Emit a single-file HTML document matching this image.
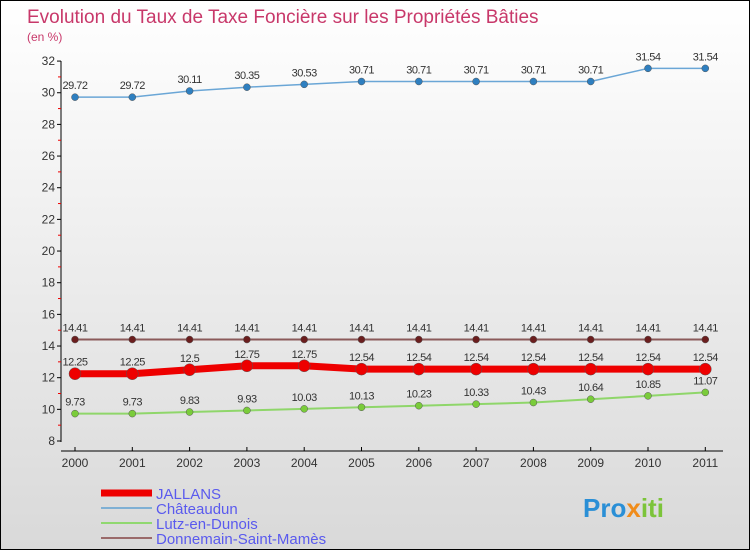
<!DOCTYPE html>
<html><head><meta charset="utf-8"><style>
body{margin:0}
#c{width:748px;height:548px;border:1px solid #000;background:linear-gradient(#fff,#d9d9d9);position:relative;font-family:"Liberation Sans",sans-serif;overflow:hidden}
svg{position:absolute;left:0;top:0}
</style></head><body>
<div id="c">
<svg id="s" width="748" height="548">
<text x="26" y="22" font-size="19" fill="#c8386a">Evolution du Taux de Taxe Foncière sur les Propriétés Bâties</text>
<text x="26" y="40" font-size="12" fill="#c8386a">(en %)</text>
<g id="axes"></g><g id="series"></g><g id="legend"></g>
<text x="582" y="516" font-size="26" font-weight="bold" fill="#2a8fd6">Pro<tspan fill="#f08c1a">x</tspan><tspan fill="#7cc43a">iti</tspan></text>
</svg>
</div>
<script>
const years=[2000,2001,2002,2003,2004,2005,2006,2007,2008,2009,2010,2011];
const jallans=[12.25,12.25,12.5,12.75,12.75,12.54,12.54,12.54,12.54,12.54,12.54,12.54];
const chateaudun=[29.72,29.72,30.11,30.35,30.53,30.71,30.71,30.71,30.71,30.71,31.54,31.54];
const lutz=[9.73,9.73,9.83,9.93,10.03,10.13,10.23,10.33,10.43,10.64,10.85,11.07];
const donnemain=[14.41,14.41,14.41,14.41,14.41,14.41,14.41,14.41,14.41,14.41,14.41,14.41];
const yTicks=[8,10,12,14,16,18,20,22,24,26,28,30,32];
const NS="http://www.w3.org/2000/svg";
const X=i=>74+i*57.3, Y=v=>440-(v-8)*15.83;
function mk(t,a,p){const e=document.createElementNS(NS,t);for(const k in a)e.setAttribute(k,a[k]);p.appendChild(e);return e;}
const ax=document.getElementById('axes');
let l=mk('line',{x1:60,y1:60,x2:60,y2:441,stroke:'#000'},ax);


l=mk('line',{x1:60,y1:450,x2:722,y2:450,stroke:'#000'},ax);


yTicks.forEach(v=>{
 mk('line',{x1:56,x2:60,y1:Y(v),y2:Y(v),stroke:'#000'},ax);
 if(v<32) mk('line',{x1:57,x2:60,y1:Y(v+1),y2:Y(v+1),stroke:'#e00'},ax);
 const t=mk('text',{x:54,y:Y(v)+4,'font-size':12,fill:'#333','text-anchor':'end'},ax);t.textContent=v;
 
 
});
years.forEach((y,i)=>{
 mk('line',{x1:X(i),x2:X(i),y1:446,y2:450,stroke:'#000'},ax);
 const t=mk('text',{x:X(i),y:466,'font-size':12,fill:'#333','text-anchor':'middle'},ax);t.textContent=y;
 
 
});
const sg=document.getElementById('series');
function series(d,name,col,dot,w,r,fmt){
 const g=mk('g',{},sg);
 
 
 const pl=mk('polyline',{points:d.map((v,i)=>X(i)+','+Y(v)).join(' '),fill:'none',stroke:col,'stroke-width':w},g);
 
 
 d.forEach((v,i)=>{
  const c=mk('circle',{cx:X(i),cy:Y(v),r:r,fill:dot,stroke:'#555','stroke-width':0.5},g);
  
  
  const t=mk('text',{x:X(i),y:Y(v)-8,'font-size':11,fill:'#333','text-anchor':'middle','letter-spacing':'-0.5'},g);t.textContent=v;
  
  
 });
}
series(donnemain,'donnemain','#8b5a5a','#6b1e1e',2,3.5);
series(lutz,'lutz','#8fd66a','#7acc3a',2,3.5);
series(chateaudun,'chateaudun','#6aa6d6','#2e7fc0',1.5,3.5);
series(jallans,'jallans','#ee0000','#ee0000',7,6);
const lg=document.getElementById('legend');
[['JALLANS','#ee0000',7],['Châteaudun','#7fb0d4',2],['Lutz-en-Dunois','#90d870',2],['Donnemain-Saint-Mamès','#9a6a6a',2]].forEach((e,i)=>{
 const y=492+i*15;
 const ln=mk('line',{x1:100,x2:151,y1:y,y2:y,stroke:e[1],'stroke-width':e[2]},lg);
 
 
 const t=mk('text',{x:155,y:y+6,'font-size':15,fill:'#5a5aee'},lg);t.textContent=e[0];
 
 
});
</script>
</body></html>
